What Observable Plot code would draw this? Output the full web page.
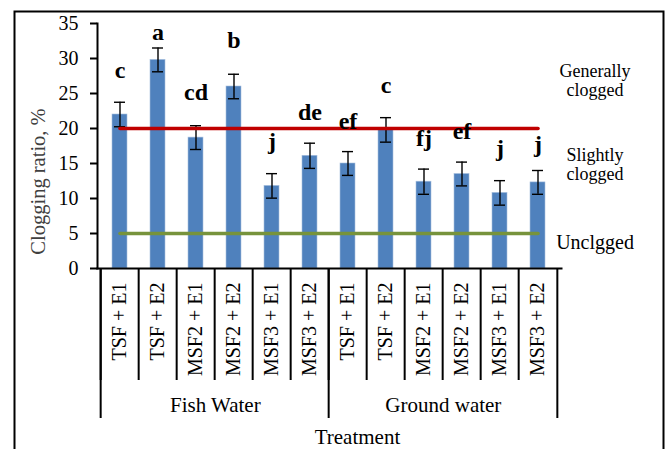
<!DOCTYPE html>
<html>
<head>
<meta charset="utf-8">
<script src="https://cdn.jsdelivr.net/npm/d3@7"></script>
<script src="https://cdn.jsdelivr.net/npm/@observablehq/plot@0.6"></script>
<style>
  html, body { margin: 0; padding: 0; background: #fff; }
  #chart svg { display: block; font-family: "Liberation Serif", serif; }
  #chart svg text { font-family: "Liberation Serif", serif; }
</style>
</head>
<body>
<div id="chart"></div>
<script>
const groups = ["Fish Water", "Ground water"];
const treatments = ["TSF + E1", "TSF + E2", "MSF2 + E1", "MSF2 + E2", "MSF3 + E1", "MSF3 + E2"];
const fishValues = [22.0, 29.8, 18.7, 26.0, 11.8, 16.1];
const groundValues = [15.0, 19.8, 12.4, 13.5, 10.8, 12.3];
const fishErrors = [1.75, 1.7, 1.7, 1.75, 1.75, 1.8];
const groundErrors = [1.7, 1.75, 1.8, 1.7, 1.75, 1.7];
const fishLetters = ["c", "a", "cd", "b", "j", "de"];
const groundLetters = ["ef", "c", "fj", "ef", "j", "j"];
const fishLetterHeights = [28.3, 33.8, 25.1, 32.6, 18.1, 22.3];
const groundLetterHeights = [21.0, 26.1, 18.6, 19.6, 17.2, 17.8];
const thresholds = [20, 5];
const thresholdColors = ["#c00000", "#77933c"];
const zoneLabels = ["Generally\nclogged", "Slightly\nclogged", "Unclgged"];
const zoneHeights = [26.9, 14.9, 3.7];
const yTicks = [0, 5, 10, 15, 20, 25, 30, 35];
const yLabel = "Clogging ratio, %";
const xLabel = "Treatment";

// Build table
const valuesByGroup = [fishValues, groundValues];
const errorsByGroup = [fishErrors, groundErrors];
const lettersByGroup = [fishLetters, groundLetters];
const heightsByGroup = [fishLetterHeights, groundLetterHeights];
const data = [];
groups.forEach((g, gi) => treatments.forEach((t, ti) => {
  data.push({
    key: g + "|" + t, group: g, treatment: t,
    value: valuesByGroup[gi][ti], err: errorsByGroup[gi][ti],
    letter: lettersByGroup[gi][ti], letterY: heightsByGroup[gi][ti]
  });
}));
const keys = data.map(d => d.key);

const W = 668, H = 449;
const mL = 97, mR = 107, mT = 23, mB = 181;
const step = (W - mL - mR) / keys.length;
const plotH = H - mT - mB;
const serif = "Liberation Serif";

const groupFirst = groups.map(g => keys.find(k => k.startsWith(g + "|")));
const groupMid = groups.map(g => keys.filter(k => k.startsWith(g + "|"))[2]);
const lastKey = keys[keys.length - 1];

const chart = Plot.plot({
  width: W, height: H,
  marginLeft: mL, marginRight: mR, marginTop: mT, marginBottom: mB,
  style: {background: "#fff", color: "#000"},
  x: {domain: keys, paddingInner: 0.6, paddingOuter: 0.3, axis: null},
  y: {domain: [0, 35], axis: null},
  marks: [
    // outer border
    Plot.frame({stroke: "#000", strokeWidth: 2, insetLeft: 14 - mL, insetTop: 11 - mT, insetRight: (W - mR) - 663, insetBottom: -(mB + 10)}),
    Plot.barY(data, {x: "key", y: "value", fill: "#4f81bd", stroke: "#a7bfde", strokeWidth: 0.6}),
    Plot.ruleX(data, {x: "key", y1: d => d.value - d.err, y2: d => d.value + d.err, stroke: "#000", strokeWidth: 1.4}),
    Plot.tickY(data, {x: "key", y: d => d.value + d.err, stroke: "#000", strokeWidth: 1.4, insetLeft: 2, insetRight: 2}),
    Plot.tickY(data, {x: "key", y: d => d.value - d.err, stroke: "#000", strokeWidth: 1.4, insetLeft: 2, insetRight: 2}),
    ...thresholds.map((t, i) => Plot.line(keys, {x: d => d, y: () => t, stroke: thresholdColors[i], strokeWidth: 3.6})),
    Plot.text(data, {x: "key", y: "letterY", text: "letter", fontSize: 24, fontWeight: "bold", fontFamily: serif, fill: "#000"}),
    // zone labels on the right
    Plot.text(zoneLabels, {x: () => lastKey, y: (d, i) => zoneHeights[i], text: d => d, dx: 57, fontSize: (d, i) => i === 2 ? 20 : 18, fontFamily: serif, fill: "#000", lineHeight: 1.05}),
    // axes
    Plot.frame({anchor: "left", stroke: "#000", strokeWidth: 2}),
    Plot.frame({anchor: "bottom", stroke: "#000", strokeWidth: 2}),
    Plot.axisY({ticks: yTicks, tickSize: 7, tickPadding: 12, fontSize: 20, fontFamily: serif, strokeWidth: 2, label: null, fill: "#000"}),
    Plot.axisX({tickSize: 0, tickRotate: -90, tickPadding: 14, fontSize: 20, fontFamily: serif, tickFormat: d => d.split("|")[1], label: null, fill: "#000"}),
    // category dividers
    Plot.ruleX(keys, {x: d => d, dx: -step / 2, insetTop: plotH, insetBottom: -112, stroke: "#000", strokeWidth: 2}),
    Plot.ruleX(groupFirst, {x: d => d, dx: -step / 2, insetTop: plotH, insetBottom: -150, stroke: "#000", strokeWidth: 2}),
    Plot.ruleX([lastKey], {x: d => d, dx: step / 2, insetTop: plotH, insetBottom: -150, stroke: "#000", strokeWidth: 2}),
    // group labels
    Plot.text(groups, {x: (d, i) => groupMid[i], text: d => d, frameAnchor: "bottom", lineAnchor: "middle", dx: step / 2, dy: 137, fontSize: 21, fontFamily: serif, fill: "#000"}),
    // axis titles
    Plot.text([xLabel], {frameAnchor: "bottom", lineAnchor: "middle", textAnchor: "middle", dx: 28, dy: 169, fontSize: 21, fontFamily: serif, fill: "#000"}),
    Plot.text([yLabel], {frameAnchor: "left", rotate: -90, textAnchor: "middle", lineAnchor: "middle", dx: 38 - mL, dy: 35.5, fontSize: 20.5, fontFamily: serif, fill: "#404040"})
  ]
});
document.getElementById("chart").append(chart);
</script>
</body>
</html>
